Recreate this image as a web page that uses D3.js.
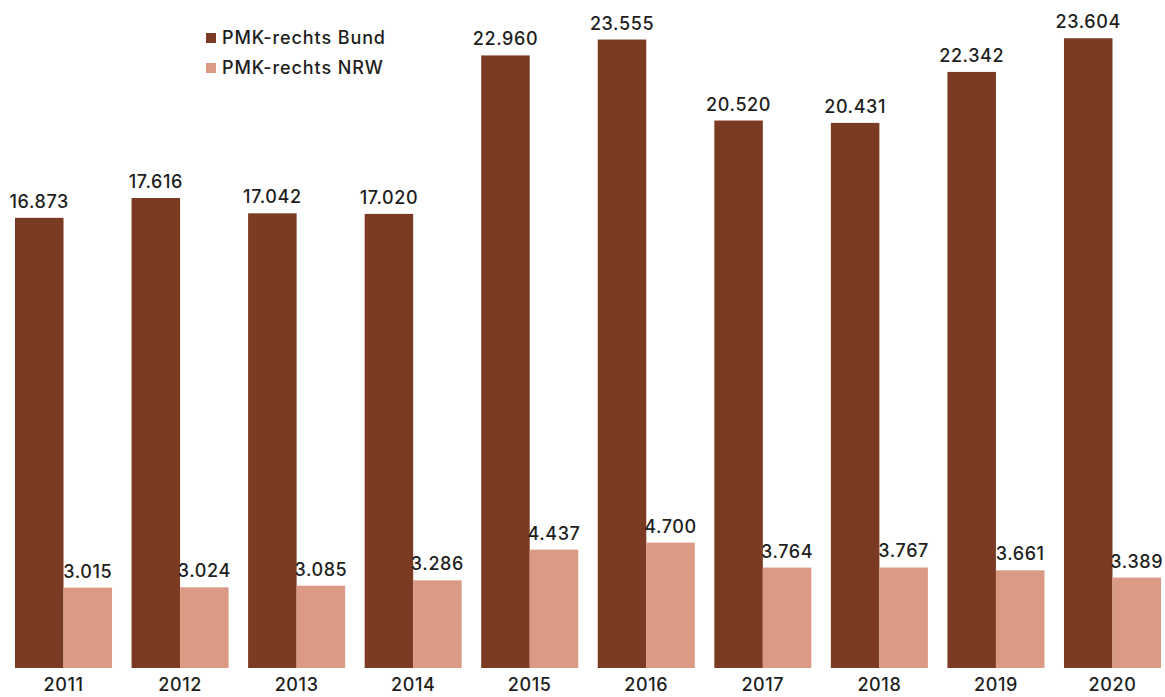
<!DOCTYPE html>
<html>
<head>
<meta charset="utf-8">
<script src="https://cdn.jsdelivr.net/npm/d3@7"></script>
<style>
  html, body { margin: 0; padding: 0; background: #fff; }
  svg { display: block; }
  text { font-family: Inter, "Noto Sans", sans-serif; fill: #1e1e1e; }
</style>
</head>
<body>
<svg id="chart" width="1165" height="697"></svg>
<script>
// Politically motivated crime (right-wing), Germany vs. North Rhine-Westphalia
const years = ["2011", "2012", "2013", "2014", "2015", "2016", "2017", "2018", "2019", "2020"];
const bund = [16873, 17616, 17042, 17020, 22960, 23555, 20520, 20431, 22342, 23604];
const nrw = [3015, 3024, 3085, 3286, 4437, 4700, 3764, 3767, 3661, 3389];
const seriesNames = ["PMK-rechts Bund", "PMK-rechts NRW"];
const seriesColors = ["#7b3a22", "#db9a83"];

const svg = d3.select("#chart");
const fmt = v => d3.format(",")(v).replace(/,/g, ".");

const x0 = d3.scaleBand().domain(years).range([15, 1161]).paddingInner(0.1675).paddingOuter(0);
const x1 = d3.scaleBand().domain([0, 1]).range([0, x0.bandwidth()]);
const y = d3.scaleLinear().domain([0, 25000]).range([668, 1]);

const rows = years.map((yr, i) => ({ year: yr, vals: [bund[i], nrw[i]] }));

const groups = svg.append("g").selectAll("g")
  .data(rows).join("g")
  .attr("transform", d => `translate(${x0(d.year)},0)`);

groups.selectAll("rect")
  .data(d => d.vals.map((v, k) => ({ v, k })))
  .join("rect")
  .attr("x", d => x1(d.k))
  .attr("y", d => y(d.v))
  .attr("width", x1.bandwidth())
  .attr("height", d => y(0) - y(d.v))
  .attr("fill", d => seriesColors[d.k]);

groups.selectAll("text.val")
  .data(d => d.vals.map((v, k) => ({ v, k })))
  .join("text")
  .attr("class", "val")
  .attr("x", d => x1(d.k) + x1.bandwidth() / 2)
  .attr("y", d => y(d.v) - 10)
  .attr("text-anchor", "middle")
  .attr("font-size", 18)
  .attr("font-weight", 500)
  .attr("letter-spacing", 0.6)
  .text(d => fmt(d.v));

// Year axis
const xAxis = svg.append("g")
  .attr("transform", "translate(0,668)")
  .call(d3.axisBottom(x0).tickSize(0).tickPadding(10));
xAxis.select(".domain").remove();
xAxis.selectAll("text")
  .attr("font-size", 18)
  .attr("font-weight", 500)
  .attr("letter-spacing", 0.6)
  .attr("font-family", "Inter, 'Noto Sans', sans-serif")
  .attr("fill", "#1e1e1e");

// Legend
const legend = svg.append("g").attr("transform", "translate(206,33)");
const item = legend.selectAll("g").data(seriesNames).join("g")
  .attr("transform", (d, i) => `translate(0,${i * 30})`);
item.append("rect").attr("width", 10).attr("height", 10)
  .attr("fill", (d, i) => seriesColors[i]);
item.append("text").attr("x", 16).attr("y", 11)
  .attr("font-size", 18).attr("font-weight", 500)
  .attr("letter-spacing", 0.9)
  .text(d => d);
</script>
</body>
</html>
